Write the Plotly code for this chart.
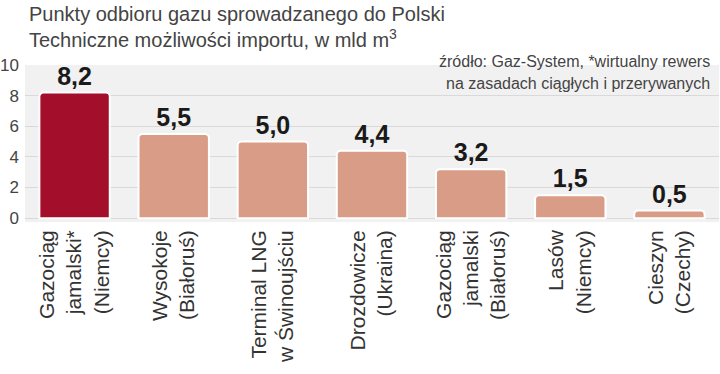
import plotly.graph_objects as go

categories = [
    "Gazociąg<br>jamalski*<br>(Niemcy)",
    "Wysokoje<br>(Białoruś)",
    "Terminal LNG<br>w Świnoujściu",
    "Drozdowicze<br>(Ukraina)",
    "Gazociąg<br>jamalski<br>(Białoruś)",
    "Lasów<br>(Niemcy)",
    "Cieszyn<br>(Czechy)",
]
values = [8.2, 5.5, 5.0, 4.4, 3.2, 1.5, 0.5]
colors = ["#a30f2b"] + ["#d99c86"] * 6
y_ticks = [0, 2, 4, 6, 8, 10]

title_lines = ["Punkty odbioru gazu sprowadzanego do Polski",
               "Techniczne możliwości importu, w mld m<sup>3</sup>"]
note_lines = ["źródło: Gaz-System, *wirtualny rewers",
              "na zasadach ciągłych i przerywanych"]

FONT = "Liberation Sans, Arial, sans-serif"

fig = go.Figure(go.Bar(
    x=categories, y=values,
    marker=dict(color=colors, line=dict(color="white", width=2), cornerradius=4),
    texttemplate="%{y:.1f}", textposition="outside",
    textfont=dict(family=FONT, size=25, color="#1a1a1a", weight="bold"),
    cliponaxis=False,
))

fig.update_layout(
    width=720, height=374,
    margin=dict(l=25, r=1, t=65, b=152, autoexpand=False),
    paper_bgcolor="white", plot_bgcolor="#f1f1f1",
    separators=", ",
    bargap=0.29,
    showlegend=False,
    font=dict(family=FONT, color="#333"),
    xaxis=dict(tickangle=-90, tickfont=dict(size=21, color="#333"), automargin=False,
               showgrid=False, zeroline=False, ticks="", ticklabelstandoff=3),
    yaxis=dict(range=[-0.25, 10], tickvals=y_ticks, ticktext=[str(v) for v in y_ticks],
               tickfont=dict(size=17, color="#444"), gridcolor="#d9d9d9", gridwidth=1,
               automargin=False, zeroline=False, ticks="", ticklabelstandoff=5),
    annotations=[
        dict(text=title_lines[0], xref="paper", yref="paper", x=0.003, y=1.325,
             xanchor="left", yanchor="middle", showarrow=False,
             font=dict(size=20, color="#444", family=FONT)),
        dict(text=title_lines[1], xref="paper", yref="paper", x=0.003, y=1.17,
             xanchor="left", yanchor="middle", showarrow=False,
             font=dict(size=20, color="#444", family=FONT)),
        dict(text=note_lines[0], xref="paper", yref="paper", x=0.99, y=1.02,
             xanchor="right", yanchor="middle", showarrow=False,
             font=dict(size=16, color="#444", family=FONT)),
        dict(text=note_lines[1], xref="paper", yref="paper", x=0.99, y=0.88,
             xanchor="right", yanchor="middle", showarrow=False,
             font=dict(size=16, color="#444", family=FONT)),
    ],
)

fig.write_html("out.html", config={"displayModeBar": False},
               post_script="document.body.style.margin='0px';")
